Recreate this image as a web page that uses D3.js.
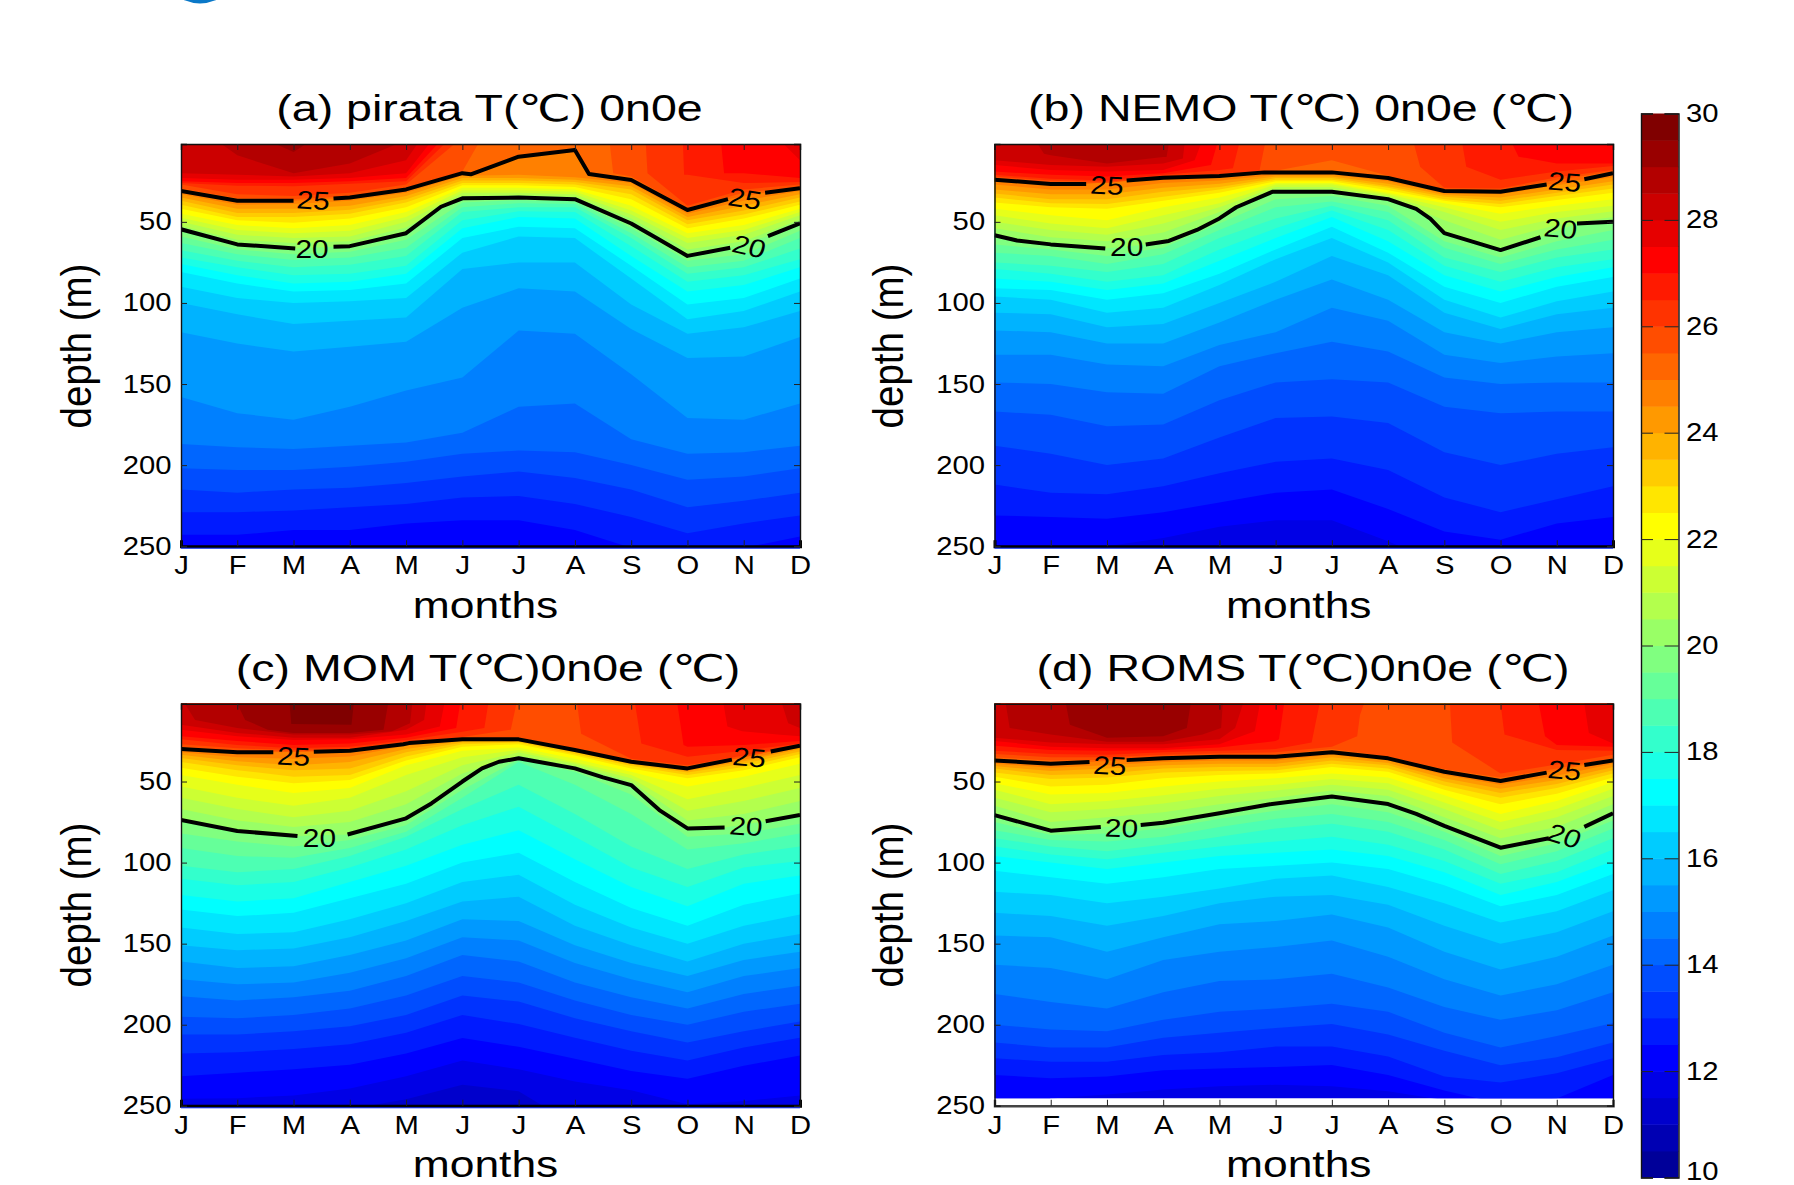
<!DOCTYPE html>
<html><head><meta charset="utf-8">
<script src="https://cdnjs.cloudflare.com/ajax/libs/d3/7.9.0/d3.min.js"></script>
<style>
html,body{margin:0;padding:0;background:#fff}
svg{display:block}
text{font-family:"Liberation Sans","DejaVu Sans",sans-serif;fill:#000}
</style></head><body><svg id="c" width="1794" height="1185"></svg>
<script>
const monthLabels=["J","F","M","A","M","J","J","A","S","O","N","D"];
const depthTicks=[50,100,150,200,250];
const colorbarTicks=[10,12,14,16,18,20,22,24,26,28,30];
const bandStep=0.5;
const colorbarMin=10, colorbarMax=30;

/* Isotherm depth (m) per month for the ocean interior */
const pirataLevels=[12.5,13,13.5,14,14.5,15,15.5,16,16.5,17,17.5,18,18.5,19,19.5,20,20.5,21,21.5,22,22.5,23,23.5,24,24.5,25];
const pirataDepths=[
[243,243,240,240,236,234,234,240,251,256,251,244],
[229,229,228,226,224,220,219,224,232,242,236,231],
[215,217,215,214,211,207,204,208,215,226,222,217],
[202,203,203,201,198,193,191,192,200,209,207,202],
[187,189,190,188,186,180,164,162,184,193,192,188],
[158,168,172,164,154,146,117,119,144,171,172,162],
[118,125,130,127,124,103,91,93,116,134,133,121],
[100,107,113,111,109,79,75,75,101,119,115,105],
[90,97,100,99,97,69,59,60,85,110,105,93],
[81,88,93,92,88,60,53,54,77,101,97,85],
[76,83,88,87,82,54,47,48,71,93,89,78],
[72,78,83,82,77,49,43.5,44,65,87,83,73],
[67.5,74,78,76.5,71,44,41,41,60,82,78,66.5],
[63,70,73.5,72,66,41,38.5,39,57,78,74,60],
[59,67,70,68.5,61,38,36.7,37.5,54,74,70,55.5],
[55,64,66.4,65.3,57,35.5,35,36,51,71,65.7,51],
[52.5,61,63,62,53.5,34,33.5,34.5,48,67,62,48.5],
[50,58,60,59,50,32,32,33,45.5,63,58,46],
[47.5,55,57,55.5,47,30.5,30.5,31.5,43,60,55,44],
[45,52,54,52,44,29,29,30,40,57,52,42],
[42,49,50.5,48,41,27.5,27.5,28.5,36,54,48,39.5],
[39.5,47,47,45,38,26,26,27,33,51.5,45.5,37.5],
[37,44.5,44.5,42.5,36,24.5,24.5,25.5,30,49,43,35],
[35,42,42,40,34,23,23,24,28,47,40,33],
[33,39.5,39,37,32,21.5,21,22.5,26,45,37,31],
[31,37,37,35,30,20,9.8,7,24.2,42.7,35,29.3]];
/* Warm surface isotherms as [month index, depth] runs; a level may have two separate runs */
const pirataSurfaceLevels=[25.5,25.5,26,26,26.5,26.5,27,27,27.5,27.5,28,28.5,29];
const pirataSurface=[
[[0,29.5],[1,35.5],[2,36],[3,34],[4,29],[5,19],[5.28,2]],
[[7.62,2],[7.68,20],[8,22],[9,41.5],[10,32],[11,28.5]],
[[0,27],[1,33],[2,34],[3,32],[4,27],[4.86,2]],
[[8.26,2],[8.29,20],[9,40],[10,30],[11,27]],
[[0,26],[1,27.7],[2,28],[3,26.5],[4,25],[4.68,2]],
[[8.92,2],[8.94,21],[9,21],[10,26],[11,25.5]],
[[0,25],[1,26],[2,26],[3,25],[4,23],[4.56,2]],
[[9.6,2],[9.65,20],[10,20],[11,23]],
[[0,23],[1,24],[2,24],[3,23],[4,20],[4.41,2]],
[[10.71,2],[11,12]],
[[0,20],[1,21],[2,22],[3,20],[4,12],[4.2,2]],
[[0.72,2],[1,9],[2,20],[3,14],[3.84,2]],
[[1.68,2],[2,7],[2.22,2]]];

const nemoLevels=[12,12.5,13,13.5,14,14.5,15,15.5,16,16.5,17,17.5,18,18.5,19,19.5,20,20.5,21,21.5,22,22.5,23,23.5,24,24.5,25,25.5];
const nemoDepths=[
[260,255,250,245,238,234,234,247,262,270,262,258],
[231,232,233,229,223,217,215,227,241,246,236,232],
[212,217,218,213,205,198,196,203,220,229,221,213],
[188,193,200,196,183,171,170,174,192,200,193,189],
[167,169,176,175,160,149,147,149,164,168,167,167],
[149,150,155,156,139,131,124,130,146,150,149,149],
[132,132,138,139,126,118,103,111,132,137,133,131],
[117,118,125,125,112,98,85.5,98,118,125,118,115],
[106,107,115,113,100,87,71,83,106,116,107,103],
[96,98,106,103,89,73,60,75,98,109,99,93],
[91,92,98,94,82,67,53,69,90,100,90,84],
[85,87,92,88,74,60,47,62,83,93,84,78],
[79,82,87,83,67,54,43,55,77,87,78,73],
[75,77,81,76,60,48,40,49,72,81,72,67],
[69,71,76,70,55,41,37.5,44,66,76,67,61],
[64,67,71,66,51,36,34,40,62,72,62,55],
[58.3,63.9,66.4,61.8,47.9,31.4,31.4,36,57,67.4,56,49.9],
[54,59.5,62,56.5,44,30,30,35,49,61,52,47],
[50,55,58,51,41,28.5,28.5,34,44,55,48,43.5],
[46,51,54,46,38.5,27,27,33,41,50,44,40],
[42,46,49,41,35,26,26,32,38.5,45,40,36],
[38,41,42,37,32,25,25,30.5,37,41,36.5,32],
[35,38.5,39,34.5,30,24,24,29,36,39,34,29.5],
[32.5,36,36,31.5,28.5,23,23,28,34.5,37,32,27],
[30,33,33,29,26.5,22,22,26.5,33.5,35,30,25],
[27,30,30,26,24.5,21,21,25,32.5,33,27.5,22.5],
[24,26.7,26.7,22.8,21.7,19.5,19.5,23,31,31.4,25,20],
[23,25.7,26,22.3,21,18.5,12,21.5,30,30.5,24,19]];
const nemoSurfaceLevels=[26,26,26.5,26.5,27,27,27.5,28,28.5];
const nemoSurface=[
[[0,22],[1,24.5],[2,25.3],[3,21.8],[4,20.5],[4.71,19],[4.81,2]],
[[7.46,2],[7.57,16],[8,29],[9,29.5],[10,22.5],[11,18]],
[[0,21],[1,23.5],[2,24.5],[3,21],[4,18],[4.24,17],[4.35,2]],
[[8.32,2],[8.39,16],[9,24],[10,19],[11,15.5]],
[[0,19],[1,21],[2,22],[3,20],[3.85,15],[3.96,2]],
[[9.21,2],[9.32,9.8],[10,14],[11,14]],
[[0,15],[1,18],[2,19],[3,18],[3.56,12],[3.67,2]],
[[0,12],[1,15],[2,16],[3,14],[3.35,11],[3.38,2]],
[[0.77,2],[0.88,8],[1,9],[2,14],[3,10],[3.06,10],[3.1,2]]];

const momLevels=[11.5,12,12.5,13,13.5,14,14.5,15,15.5,16,16.5,17,17.5,18,18.5,19,19.5,20,20.5,21,21.5,22,22.5,23,23.5,24,24.5,25,25.5];
const momDepths=[
[290,280,270,252,246,237,241,262,280,290,280,285],
[245.7,245.3,243.6,239.3,231.8,222,227.5,235,240.4,249,247,243.6],
[231.8,229.6,227.5,224.7,217.8,208.2,213.6,221,228.6,233.3,225.3,219],
[217.8,217,215,212,205,194,199.6,208,216,222,214,208],
[206,206,204,201,194,182,185.7,196,204,211,204,198],
[195,196,194,190,182,170,174,185,194,200,192,187],
[182.5,185,183,179,170,157,161,174,183,190,181,176],
[172,175,174,168,159,146,148,162,172,180,170,165],
[161,165,164,157,148,135,136,151,162,170,160,155],
[151,154,153,146,136,124,121,139,151,161,150,144],
[140,144,143,135,125,112,107.5,126,140,150,139,132],
[129,133,131,122,113,100,94,112,128,139,126,119],
[120,124,122,112,102,89,80,98,115,127,113,108],
[110,114,112,103,92,77,65.5,84,103,115,103,99],
[102,106,104,96,84,67,52,70,90,104,95,90],
[91,96,97,91,81,60,38,52,70,92,88,82],
[82,87,90,86,77,55,36.5,44,58,84,82,76],
[73.7,80.5,83.6,82.6,72.7,50,35.7,41.9,52.2,78.9,77.8,70.7],
[67,74,78,75,64,45,34,40.5,50,74,70,62],
[60,67,72,68,56,40,32,39,48,68,62,54],
[53,60,65,60,46,35,30.5,38,46,61,54,46],
[46,52,57,54,40,31,29,36,44,53,47,39],
[41.5,47,51,49,37,28.5,27,34,42,48,43,35],
[38,43,47,46,34.5,27,26,33,40.5,46,41,33],
[35.5,40,43,42,32,26,25.5,32,39.5,44.5,39,31.5],
[33.5,37.5,40,38,30,25,25,31.5,39,43.5,37.5,30],
[32,35,36,34.5,28,24.5,24.5,31,38.5,42.6,36.5,29],
[30,32,32,31,26.5,24,24,30.6,37.8,41.9,35.7,27.9],
[28.5,31,31.5,30.5,26,23.5,23,29.5,37,41,35,27.6]];
const momSurfaceLevels=[26,26,26.5,26.5,27,27,27.5,27.5,28,28,28.5,29,29.5];
const momSurface=[
[[0,27],[1,29.5],[2,30.6],[3,29.6],[4,25.5],[5,22.5],[5.86,18],[5.96,2]],
[[7.04,2],[7.11,20.5],[8,36],[9,40],[10,34],[11,27.2]],
[[0,24],[1,27.5],[2,29.5],[3,28.5],[4,24.5],[5,19.3],[5.39,17],[5.46,2]],
[[8.07,2],[8.18,26.5],[9,34.7],[10,31],[11,26.5]],
[[0,22],[1,25],[2,27.5],[3,26.5],[4,23],[4.89,17],[4.96,2]],
[[8.82,2],[8.93,27.5],[9,28.5],[10,27.5],[11,25]],
[[0,18],[1,22],[2,24.4],[3,24],[4,21],[4.6,16],[4.68,2]],
[[9.64,2],[9.71,16],[9.97,19],[10.6,21],[11,22]],
[[0,15],[1,20],[2,23],[3,23],[4,18],[4.32,12],[4.36,2]],
[[10.68,2],[10.79,14],[11,17]],
[[0.07,2],[0.25,12],[1,17],[2,21],[3,21],[3.75,19],[4.07,14],[4.11,2]],
[[1,2],[1.14,12],[1.54,18],[2,20],[3,20],[3.6,18],[3.68,2]],
[[1.93,2],[1.96,14.5],[3.03,15],[3.07,2]]];

const romsLevels=[12,12.5,13,13.5,14,14.5,15,15.5,16,16.5,17,17.5,18,18.5,19,19.5,20,20.5,21,21.5,22,22.5,23,23.5,24,24.5,25,25.5];
const romsDepths=[
[262,245.5,243,240,238,237,238,241,246.5,262,270,270],
[231,233,232,228,227,226,224.8,231,240.6,248.6,245.5,231],
[220.7,222.8,222.8,218.6,217,213.5,213.5,219.6,232,235.7,230,220.7],
[211,214,214,208,205,202,199.6,206,216,225,220,211],
[200,203,204,197,192,190,187,192,205,214,207,199],
[181,186,190,180,173,172,168.5,177,189,197,191,180],
[163,165,172,160,155,152,148,158,172,182,175,163],
[145,146,155,146,138,136,132,140,155,166,158,145],
[131,133,139,133,125,121,120,126,139,150,143,130],
[118,120,125,121,116,110,108,115,125,137,130,117],
[105,109,113,109,104,102,100,104,114,127,120,107],
[96,100,104,100,96,94,92,96,106,120,112,99],
[90,95,98,94,90,87,84,89,99,113,106,92],
[85,90,93,89,84,79,76,81,92,107,99,85],
[80,86,87,84,78,73,70,75,86,101,93,79],
[75,83,82,79,73,68,64,69,81,96,88,74],
[70.7,80.3,77.4,75.4,69.6,63.9,59.3,63.9,77.4,90.8,84,69.6],
[65,75,72,69,64,60,55.5,59,72,85,78,64],
[60,69,67,63.5,59,55.5,52,55,67,80,72,59],
[55,64,62,58.5,54.5,52,48.5,51,63,75,67,54.5],
[51,58,57,53,50,48,45,47.5,58.5,70,62,50.5],
[47,53,52,48,46,45,41,44,55,64,57.5,47.5],
[44.5,48.5,47.5,44.5,43.5,43,39,42,52.5,60,54,45],
[42,46,45,42,41,41,37,40,50,57,51.5,43],
[40.5,43.5,42,40,39,39,35,38.5,48,54.5,49,41],
[39,41.5,40,38,37,37,33.5,37,46,52,46.5,39],
[37,39,37.4,35.7,34.7,34.7,32,35.7,44,49.7,44,37],
[35,37,36.5,34.7,33.7,33.5,30,34.5,42.5,47.5,42,35.5]];
const romsSurfaceLevels=[26,26,26.5,26.5,27,27,27.5,27.5,28,28.5,29];
const romsSurface=[
[[0,33],[1,35],[2,35],[3,33.5],[4,32.5],[5,32],[6,28.5],[6.45,22],[6.5,9],[6.57,2]],
[[8.1,2],[8.14,26],[9,45],[10,39.5],[11,33.5]],
[[0,31],[1,33],[2,33.5],[3,32],[4,31],[5,30],[5.64,26],[5.74,9],[5.78,2]],
[[9,2],[9.07,21],[10,30.5],[11,31]],
[[0,28],[1,30.5],[2,31],[3,30.5],[4,29],[5,25],[5.06,24],[5.15,2]],
[[9.68,2],[9.79,22],[10,27.5],[11,28.5]],
[[0,25],[1,28.5],[2,29.5],[3,29.5],[4,27],[4.63,19],[4.72,2]],
[[10.49,2],[10.57,20],[11,26.5]],
[[0,23],[1,26],[2,27],[3,27],[4,24],[4.28,17],[4.42,2]],
[[0.2,2],[0.27,17],[1,21],[2,25.5],[3,25.5],[3.7,21],[4.03,17],[4.06,2]],
[[1.27,2],[1.34,15],[2,23],[3,22],[3.42,17],[3.49,2]]];

/* Contour lines: [month index, depth]; a null depth breaks the line around its label */
const pirataLine25=[[0,31],[1,37],[2,37],[2.3,null],[2.71,35.6],[3,35],[4,30],[5,20],[5.15,20.7],[6,9.8],[7,5.7],[7.25,20.5],[8,24.2],[9,42.7],[9.72,36],[10,null],[10.38,32],[11,29.3]];
const pirataLine20=[[0,54.6],[1,63.9],[2.03,66.4],[2.3,null],[2.71,65.3],[3,65],[4,57],[4.62,40.7],[5,35.5],[6,35],[7,36],[8,51],[8.45,60],[9,71],[9.76,66],[10,null],[10.43,58.8],[11,51]];
const nemoLine25=[[0,24],[1,26.7],[1.63,26.7],[2,null],[2.35,24.5],[3,22.8],[4,21.7],[4.8,19.5],[6,19.5],[7,23],[8,31],[9,31.4],[9.82,27],[10,null],[10.49,23.7],[11,20]];
const nemoLine20=[[0,58.3],[0.4,61.5],[1,63.9],[1.97,66.4],[2.3,null],[2.69,64],[3.1,61.8],[3.6,55],[4,47.9],[4.3,41],[4.95,31.4],[6,31.4],[7,36],[7.5,42],[7.75,48],[8,57],[9,67.4],[9.71,59.5],[10,null],[10.36,51],[11,49.9]];
const momLine25=[[0,30],[1,32],[1.64,32],[2,null],[2.36,31.7],[3,31],[3.95,27],[4.05,26.3],[5,24],[6,24],[7,30.6],[8,37.8],[9,41.9],[9.79,36.5],[10,null],[10.48,31.5],[11,27.9]];
const momLine20=[[0,73.7],[1,80.5],[2.07,83.6],[2.5,null],[2.96,82.7],[4,72.7],[4.45,63.5],[5,50],[5.35,41.9],[5.65,37.8],[6,35.7],[7,41.9],[7.5,47.4],[8,52.2],[8.5,67.6],[9,78.9],[9.66,78.4],[10,null],[10.39,74.5],[11,70.7]];
const romsLine25=[[0,37],[1,39],[1.69,37.9],[2,null],[2.35,36.8],[3,35.7],[4,34.7],[5,34.7],[6,32],[7,35.7],[8,44],[9,49.7],[9.82,44.5],[10,null],[10.49,39.8],[11,37]];
const romsLine20=[[0,70.7],[1,80.3],[1.89,78],[2.2,null],[2.6,76.8],[3,75.4],[4,69.6],[4.9,64],[6,59.3],[7,63.9],[7.5,70],[8,77.4],[9,90.8],[9.86,85],[10,null],[10.49,78],[11,69.6]];

/* Contour labels: [month index, depth, text, rotation] */
const pirataLabels=[[2.35,36.5,"25",4],[2.33,66.4,"20",0],[10.02,35.5,"25",10],[10.1,65,"20",15]];
const nemoLabels=[[2.0,27.3,"25",3],[2.35,65.7,"20",0],[10.14,25.2,"25",5],[10.07,54,"20",6]];
const momLabels=[[2.0,34.3,"25",3],[2.46,85,"20",0],[10.1,35,"25",6],[10.04,77.4,"20",4]];
const romsLabels=[[2.05,40,"25",3],[2.26,78.5,"20",2],[10.14,43,"25",6],[10.14,83.4,"20",20]];

const titles=["(a) pirata T(℃) 0n0e","(b) NEMO T(℃) 0n0e (℃)","(c) MOM T(℃)0n0e (℃)","(d) ROMS T(℃)0n0e (℃)"];
const dataBottom=[250,250,250,245.3];

const svg=d3.select("#c");
const SX=1.17;
const jet=d3.scaleLinear().domain([10,12.5,17.5,22.5,27.5,30])
  .range(["#000080","#0000ff","#00ffff","#ffff00","#ff0000","#800000"]).clamp(true);
const bandColor=L=>jet(L+bandStep);

/* fragment of a logo cut off at the top edge */
svg.append("ellipse").attr("cx",200).attr("cy",-37).attr("rx",40.4).attr("ry",40.4).attr("fill","#0a78c8");

const panels=[
 {levels:pirataLevels,depths:pirataDepths,sl:pirataSurfaceLevels,sd:pirataSurface,l25:pirataLine25,l20:pirataLine20,labels:pirataLabels,L:181,R:800,T:144,B:546.2,title:489.5,tb:120.7,lx:91,ly:346},
 {levels:nemoLevels,depths:nemoDepths,sl:nemoSurfaceLevels,sd:nemoSurface,l25:nemoLine25,l20:nemoLine20,labels:nemoLabels,L:994.5,R:1613,T:144,B:546.2,title:1301,tb:120.7,lx:903,ly:346},
 {levels:momLevels,depths:momDepths,sl:momSurfaceLevels,sd:momSurface,l25:momLine25,l20:momLine20,labels:momLabels,L:181,R:800,T:703.7,B:1105.8,title:488,tb:681,lx:91,ly:905},
 {levels:romsLevels,depths:romsDepths,sl:romsSurfaceLevels,sd:romsSurface,l25:romsLine25,l20:romsLine20,labels:romsLabels,L:994.5,R:1613,T:703.7,B:1105.8,title:1303,tb:681,lx:903,ly:905}
];

panels.forEach((p,idx)=>{
  const g=svg.append("g");
  const x=d3.scaleLinear().domain([0,11]).range([p.L,p.R]);
  const y=d3.scaleLinear().domain([2,250]).range([p.T,p.B]);
  const clipId="clip"+idx;
  g.append("clipPath").attr("id",clipId).append("rect")
    .attr("x",p.L).attr("y",p.T).attr("width",p.R-p.L).attr("height",y(dataBottom[idx])-p.T);
  const bands=g.append("g").attr("clip-path",`url(#${clipId})`);
  bands.append("rect").attr("x",p.L).attr("y",p.T).attr("width",p.R-p.L).attr("height",p.B-p.T)
    .attr("fill",bandColor(p.levels[0]-bandStep));
  const solid=l=>l.filter(d=>d[1]!==null);
  const runs=[];
  p.depths.forEach((row,i)=>{
    const L=p.levels[i];
    const pts=L===25?solid(p.l25):L===20?solid(p.l20):row.map((d,m)=>[m,d]);
    runs.push({level:L,pts});
  });
  p.sd.forEach((pts,i)=>runs.push({level:p.sl[i],pts}));
  runs.sort((a,b)=>a.level-b.level);
  const area=d3.area().x(d=>x(d[0])).y0(y(-400)).y1(d=>y(d[1]));
  bands.selectAll("path.band").data(runs).join("path").attr("class","band")
    .attr("d",d=>area(d.pts)).attr("fill",d=>bandColor(d.level));

  const line=d3.line().defined(d=>d[1]!==null).x(d=>x(d[0])).y(d=>y(d[1]));
  const lines=g.append("g").attr("clip-path",`url(#${clipId})`);
  lines.selectAll("path").data([p.l25,p.l20]).join("path")
    .attr("d",line).attr("fill","none").attr("stroke","#000").attr("stroke-width",4)
    .attr("stroke-linejoin","round");
  g.selectAll("text.cl").data(p.labels).join("text").attr("class","cl")
    .attr("transform",d=>`translate(${x(d[0])},${y(d[1])}) scale(${SX},1) rotate(${d[3]})`)
    .attr("text-anchor","middle").attr("dy","0.36em").attr("font-size",25.5).text(d=>d[2]);

  /* axes */
  const axB=d3.axisBottom(x).tickValues(d3.range(12)).tickSize(-6).tickPadding(10.5).tickFormat(i=>monthLabels[i]);
  const axT=d3.axisTop(x).tickValues(d3.range(12)).tickSize(-6).tickFormat("");
  const axL=d3.axisLeft(y).tickValues(depthTicks).tickSize(-6).tickPadding(8);
  const axR=d3.axisRight(y).tickValues(depthTicks).tickSize(-6).tickFormat("");
  const gB=g.append("g").attr("transform",`translate(0,${p.B})`).call(axB);
  g.append("g").attr("transform",`translate(0,${p.T})`).call(axT);
  const gL=g.append("g").attr("transform",`translate(${p.L},0)`).call(axL);
  g.append("g").attr("transform",`translate(${p.R},0)`).call(axR);
  g.selectAll(".domain").attr("stroke","#111").attr("stroke-width",1.4);
  g.selectAll(".tick line").attr("stroke","#222").attr("stroke-width",1);
  gB.selectAll("text").attr("font-size",25).attr("font-family",null).attr("transform",`scale(${SX},1)`).attr("fill","#000");
  gL.selectAll("text").attr("font-size",25).attr("font-family",null).attr("transform",`scale(${SX},1)`).attr("fill","#000");
  gB.select(".domain").attr("stroke-width",idx===3?2.4:3).attr("stroke",idx===3?"#444":"#000");
  if(idx<3){ g.append("line").attr("x1",p.L).attr("x2",p.R).attr("y1",p.B+2).attr("y2",p.B+2).attr("stroke","#0a2cff").attr("stroke-width",1); }

  /* titles */
  g.append("text").attr("transform",`translate(${p.title},${p.tb}) scale(1.258,1)`)
    .attr("text-anchor","middle").attr("font-size",37).text(titles[idx]);
  g.append("text").attr("transform",`translate(${(p.L+p.R)/2-5},${idx<2?618:1177}) scale(1.2,1)`)
    .attr("text-anchor","middle").attr("font-size",37).text("months");
  g.append("text").attr("transform",`translate(${p.lx},${p.ly}) scale(1.1,1) rotate(-90)`)
    .attr("text-anchor","middle").attr("font-size",38.5).text("depth (m)");
});

/* colour bar */
const cbX=[1641,1678.5];
const cy=d3.scaleLinear().domain([colorbarMin,colorbarMax]).range([1177.5,113.5]);
const cb=svg.append("g");
cb.selectAll("rect").data(d3.range(colorbarMin,colorbarMax,bandStep)).join("rect")
  .attr("x",cbX[0]).attr("width",cbX[1]-cbX[0])
  .attr("y",d=>cy(d+bandStep)).attr("height",d=>cy(d)-cy(d+bandStep)+0.5)
  .attr("fill",d=>bandColor(d));
const axCL=d3.axisLeft(cy).tickValues(colorbarTicks).tickSize(-12).tickFormat("");
const axCR=d3.axisRight(cy).tickValues(colorbarTicks).tickSize(-14).tickPadding(22);
cb.append("g").attr("transform",`translate(${cbX[0]},0)`).call(axCL);
const gCR=cb.append("g").attr("transform",`translate(${cbX[1]},0)`).call(axCR);
cb.selectAll(".domain").attr("stroke","#111").attr("stroke-width",1.4);
cb.selectAll(".tick line").attr("stroke","#222").attr("stroke-width",1);
gCR.selectAll("text").attr("font-size",25).attr("font-family",null).attr("x",7.5/SX).attr("text-anchor","start")
  .attr("transform",`scale(${SX},1)`).attr("fill","#000");
/* keep the lowest label inside the page */
gCR.selectAll("text").filter(d=>d===colorbarMin).attr("y",-6);
</script></body></html>
